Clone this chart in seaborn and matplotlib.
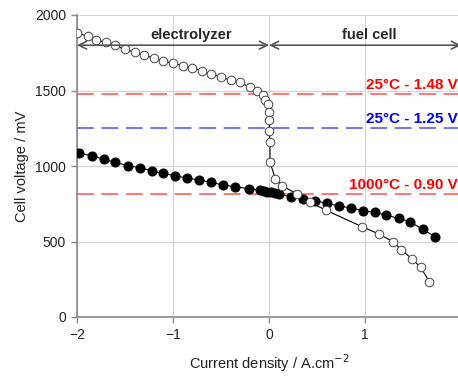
import numpy as np
import pandas as pd
import seaborn as sns
import matplotlib.pyplot as plt

# datos
open_x = [-2.0, -1.89, -1.80, -1.70, -1.60, -1.50, -1.40, -1.30, -1.20, -1.10,
          -1.00, -0.90, -0.80, -0.70, -0.60, -0.50, -0.40, -0.30, -0.20, -0.125,
          -0.066, -0.04, -0.014, -0.003, 0.003, 0.003, 0.01, 0.01, 0.066, 0.14,
          0.295, 0.43, 0.59, 0.97, 1.15, 1.29, 1.38, 1.49, 1.58, 1.67]
open_y = [1881, 1860, 1834, 1819, 1799, 1772, 1753, 1735, 1715, 1695,
          1680, 1664, 1649, 1631, 1609, 1591, 1567, 1554, 1521, 1499,
          1470, 1437, 1411, 1356, 1305, 1232, 1157, 1028, 914, 868,
          814, 759, 708, 598, 548, 499, 444, 384, 329, 234]

filled_x = [-1.98, -1.84, -1.72, -1.60, -1.47, -1.34, -1.22, -1.10, -0.98, -0.85,
            -0.73, -0.60, -0.48, -0.35, -0.21, -0.09, -0.05, -0.02, 0.02, 0.06,
            0.10, 0.23, 0.35, 0.48, 0.60, 0.73, 0.85, 0.98, 1.10, 1.22,
            1.35, 1.47, 1.60, 1.73]
filled_y = [1084, 1068, 1044, 1024, 1002, 989, 967, 951, 935, 920,
            907, 892, 874, 862, 850, 840, 835, 830, 826, 820,
            814, 795, 783, 770, 753, 735, 723, 704, 693, 675,
            653, 631, 580, 532]

ref_levels = [1475, 1250, 815]
ref_labels = ["25°C - 1.48 V", "25°C - 1.25 V", "1000°C - 0.90 V"]
line_colors = ["#ff5050", "#5050ff", "#ff5050"]
text_colors = ["#ff0000", "#0000ff", "#ff0000"]
ref_text_y = [1535, 1312, 873]

x_ticks = [-2, -1, 0, 1, 2]
y_ticks = [0, 500, 1000, 1500, 2000]

df_open = pd.DataFrame({'x': open_x, 'y': open_y})
df_filled = pd.DataFrame({'x': filled_x, 'y': filled_y})

sns.set_theme(style="whitegrid")
plt.rcParams['font.family'] = ['Liberation Sans', 'DejaVu Sans']

fig = plt.figure(figsize=(4.58, 3.78), dpi=100)
ax = fig.add_axes([77 / 458, 61 / 378, 384 / 458, 302 / 378])

# líneas de referencia
for lvl, col in zip(ref_levels, line_colors):
    ax.axhline(lvl, color=col, lw=1.1, dashes=(11, 5), zorder=1)

sns.lineplot(data=df_filled, x='x', y='y', sort=False, estimator=None, ax=ax,
             color='black', lw=0.8, marker='o', markersize=6.5,
             markerfacecolor='black', markeredgecolor='black', zorder=3)
sns.lineplot(data=df_open, x='x', y='y', sort=False, estimator=None, ax=ax,
             color='black', lw=0.8, marker='o', markersize=6.2,
             markerfacecolor='white', markeredgecolor='#444444',
             markeredgewidth=0.7, zorder=4)

for lbl, col, ty in zip(ref_labels, text_colors, ref_text_y):
    ax.text(1.97, ty, lbl, color=col, fontsize=11, fontweight='bold',
            ha='right', va='center', zorder=5)

# flechas de zonas
arrow = dict(arrowstyle='<->', color='#555555', lw=1.2, shrinkA=0, shrinkB=0,
             mutation_scale=14)
ax.annotate('', xy=(-2, 1800), xytext=(0, 1800), arrowprops=arrow, zorder=5)
ax.annotate('', xy=(0, 1800), xytext=(2, 1800), arrowprops=arrow, zorder=5)
ax.text(-0.81, 1870, 'electrolyzer', fontsize=10.5, fontweight='bold',
        ha='center', va='center')
ax.text(1.04, 1870, 'fuel cell', fontsize=10.5, fontweight='bold',
        ha='center', va='center')

ax.set_xlim(-2, 2)
ax.set_ylim(0, 2000)
ax.set_xticks(x_ticks)
ax.set_yticks(y_ticks)
ax.grid(True, color='#d4d4d4', lw=0.8)
for s in ['top', 'right']:
    ax.spines[s].set_visible(False)
for s in ['left', 'bottom']:
    ax.spines[s].set_color('#888888')
    ax.spines[s].set_linewidth(1.2)
ax.tick_params(axis='both', length=4, width=1, color='#888888', labelsize=10,
               labelcolor='#222222', pad=4, bottom=True, left=True)

ax.set_xlabel('Current density / A.cm$^{-2}$', fontsize=10.5, color='#222222',
              labelpad=7)
ax.set_ylabel('Cell voltage / mV', fontsize=10.5, color='#222222')
ax.yaxis.set_label_coords(-0.125, 0.5)

plt.savefig('out.png', dpi=100)
